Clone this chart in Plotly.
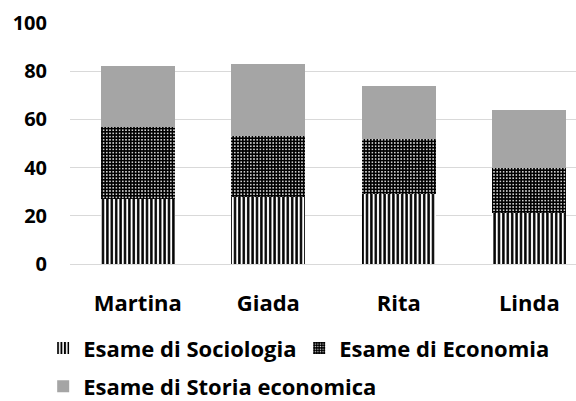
import plotly.graph_objects as go

categories = ["Martina", "Giada", "Rita", "Linda"]
sociologia = [27, 28, 29, 21]
economia = [30, 25, 23, 19]
storia = [25, 30, 22, 24]
series_names = ["Esame di Sociologia", "Esame di Economia", "Esame di Storia economica"]
y_ticks = [0, 20, 40, 60, 80, 100]

FONT = "Open Sans"
fig = go.Figure()
fig.add_trace(go.Bar(
    x=categories, y=sociologia, name=series_names[0],
    marker=dict(color="white", line=dict(width=0),
                pattern=dict(shape="|", fgcolor="black", bgcolor="white",
                             size=4.4, solidity=0.55, fillmode="replace")),
    legend="legend",
))
fig.add_trace(go.Bar(
    x=categories, y=economia, name=series_names[1],
    marker=dict(color="black", line=dict(width=0),
                pattern=dict(shape=".", fgcolor="white", bgcolor="black",
                             size=3.2, solidity=0.22, fillmode="replace")),
    legend="legend",
))
fig.add_trace(go.Bar(
    x=categories, y=storia, name=series_names[2],
    marker=dict(color="#a5a5a5", line=dict(width=0)),
    legend="legend2",
))

legend_font = dict(family=FONT, size=22, color="black", weight="bold")
fig.update_layout(
    barmode="stack",
    bargap=0.431,
    width=576, height=401,
    margin=dict(l=70, r=0, t=23, b=137, autoexpand=False),
    paper_bgcolor="white", plot_bgcolor="white",
    font=dict(family=FONT, size=22, color="black", weight="bold"),
    xaxis=dict(range=[-0.52, 3.358], showgrid=False, showline=False,
               ticks="", ticklabelstandoff=24,
               tickfont=dict(family=FONT, size=22, color="black", weight="bold")),
    yaxis=dict(range=[0, 100], tickvals=y_ticks, showgrid=True,
               gridcolor="#d9d9d9", gridwidth=1, zeroline=True,
               zerolinecolor="#d9d9d9", zerolinewidth=1, showline=False,
               ticks="", ticklabelstandoff=22,
               tickfont=dict(family=FONT, size=20, color="black", weight="bold")),
    legend=dict(orientation="h", x=-0.053, xanchor="left", y=-0.349, yanchor="middle",
                entrywidth=211, traceorder="normal", font=legend_font,
                bgcolor="rgba(0,0,0,0)"),
    legend2=dict(orientation="h", x=-0.053, xanchor="left", y=-0.508, yanchor="middle",
                 font=legend_font, bgcolor="rgba(0,0,0,0)"),
    showlegend=True,
)

fig.write_html(
    "out.html",
    config={"displayModeBar": False},
    post_script="document.body.style.margin='0';document.body.style.overflow='hidden';",
)
